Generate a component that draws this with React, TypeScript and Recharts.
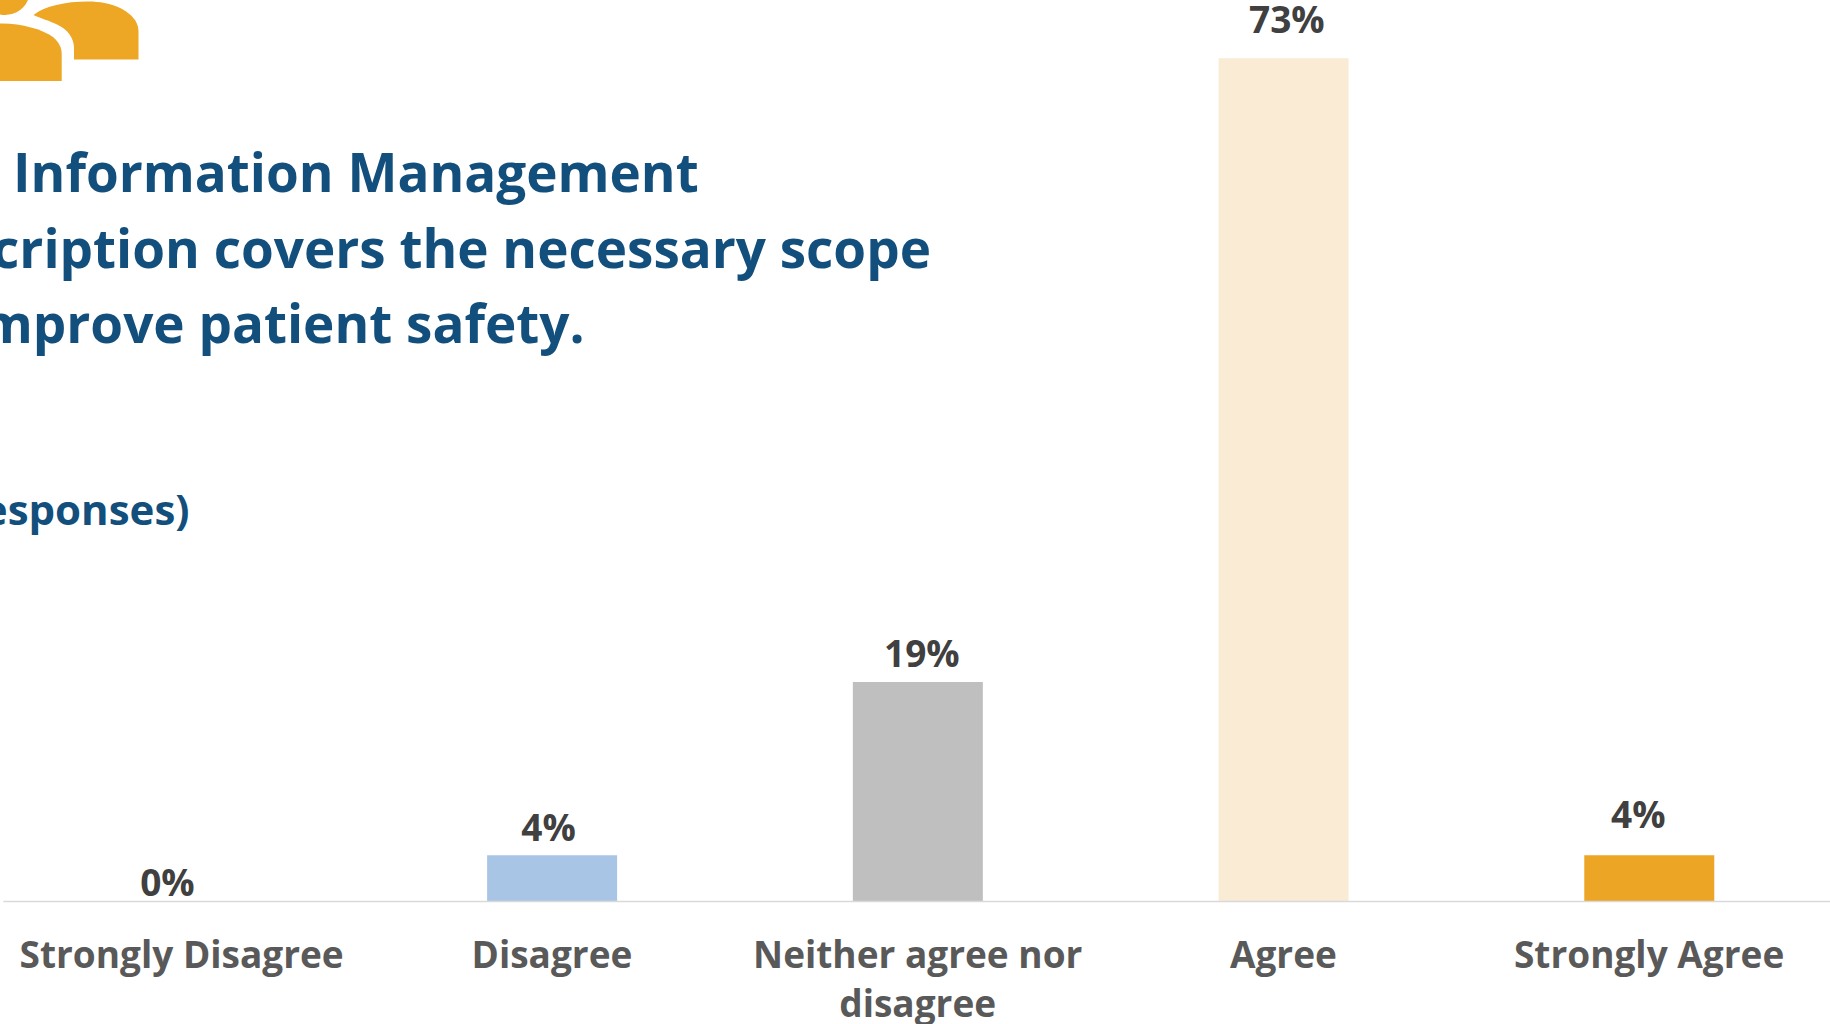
import React from 'react';
import { BarChart, Bar, XAxis, YAxis, LabelList, Cell } from 'recharts';

// ---- data ----
const categories = ['Strongly Disagree', 'Disagree', 'Neither agree nor disagree', 'Agree', 'Strongly Agree'];
const values = [0, 4, 19, 73, 4];
const valueLabels = ['0%', '4%', '19%', '73%', '4%'];
const barColors = ['#2E75B6', '#A9C5E6', '#BFBFBF', '#FAEBD4', '#EDA526'];
const titleLines = ['Information Management', 'cription covers the necessary scope', 'mprove patient safety.'];
const subtitleText = 'esponses)';

const data = categories.map((c, i) => ({ category: c, value: values[i] }));

// ---- styling constants ----
const FONT = '"Open Sans", "DejaVu Sans", sans-serif';
const LABEL_DX = [-19, -3.5, 4, 3.3, -11];
const LABEL_GAP = [5.5, 14.5, 15.3, 25.5, 27];
const TICK_DX = [-4.6, 0, 0, 0, 0];
const TICK_FONT_SIZE = 37;
const TICK_LINE_HEIGHT = 48.4;
const TICK_MAX_WIDTH = 360;

let measureCtx: CanvasRenderingContext2D | null = null;
const measure = (s: string): number => {
  if (!measureCtx) {
    const c = document.createElement('canvas');
    measureCtx = c.getContext('2d');
  }
  if (!measureCtx) return s.length * TICK_FONT_SIZE * 0.55;
  measureCtx.font = `700 ${TICK_FONT_SIZE}px "Open Sans"`;
  return measureCtx.measureText(s).width;
};

const wrapWords = (s: string, maxW: number): string[] => {
  const words = s.split(' ');
  const lines: string[] = [];
  let cur = '';
  words.forEach((w) => {
    const test = cur ? `${cur} ${w}` : w;
    if (cur && measure(test) > maxW) {
      lines.push(cur);
      cur = w;
    } else {
      cur = test;
    }
  });
  if (cur) lines.push(cur);
  return lines;
};

const renderValueLabel = (props: any) => {
  const { x, y, width, value } = props;
  const i = categories.indexOf(String(value));
  if (i < 0) return null;
  const cx = Number(x) + Number(width) / 2 + LABEL_DX[i];
  const by = Number(y) - LABEL_GAP[i];
  return (
    <text
      key={`lbl-${i}`}
      x={cx}
      y={by}
      textAnchor="middle"
      fill="#404040"
      fontFamily={FONT}
      fontWeight={700}
      fontSize={37}
    >
      {valueLabels[i]}
    </text>
  );
};

const CategoryTick = (props: any) => {
  const { x, y, payload } = props;
  const idx = categories.indexOf(String(payload.value));
  const tx = Number(x) + (idx >= 0 ? TICK_DX[idx] : 0);
  const lines = wrapWords(String(payload.value), TICK_MAX_WIDTH);
  const baseY = Number(y) + 66.8;
  return (
    <text
      x={tx}
      y={baseY}
      textAnchor="middle"
      fill="#595959"
      fontFamily={FONT}
      fontWeight={700}
      fontSize={TICK_FONT_SIZE}
    >
      {lines.map((ln, k) => (
        <tspan key={k} x={tx} y={baseY + k * TICK_LINE_HEIGHT}>
          {ln}
        </tspan>
      ))}
    </text>
  );
};

export default function App() {
  return (
    <div style={{ position: 'absolute', left: 0, top: 0, width: 1830, height: 1024, overflow: 'hidden', background: '#ffffff' }}>
      <div style={{ position: 'absolute', left: 0, top: 0 }}>
        <BarChart
          width={1832}
          height={1024}
          data={data}
          margin={{ top: 0.6, right: 0, bottom: 0, left: 3.4 }}
        >
          <YAxis hide domain={[0, 78]} />
          <XAxis
            dataKey="category"
            interval={0}
            tickLine={false}
            tickSize={0}
            tickMargin={0}
            height={122.5}
            axisLine={{ stroke: '#D9D9D9', strokeWidth: 1.5 }}
            tick={<CategoryTick />}
          />
          <Bar dataKey="value" barSize={130} minPointSize={0.01} isAnimationActive={false}>
            {data.map((d, i) => (
              <Cell key={d.category} fill={barColors[i]} />
            ))}
            <LabelList dataKey="category" content={renderValueLabel} />
          </Bar>
        </BarChart>
      </div>
      <svg
        width={1830}
        height={1024}
        style={{ position: 'absolute', left: 0, top: 0, pointerEvents: 'none' }}
      >
        {/* logo fragment */}
        <g fill="#EDA725">
          <path d="M0,0 L28,0 A25,25 0 0 1 0,14.5 Z" />
          <path d="M0,23.5 C20,23 42,29 53,37 C59,42 61.7,48 61.7,54 L61.7,81 L0,81 Z" />
          <path d="M33.5,15 C45,6 65,1.5 88,1.5 C112,1.5 128,10 135,20 C138,25 138.5,28 138.5,32 L138.5,59.5 L74,59.5 L74,48 C74,38 68,30 58,25 C50,21 40,18 33.5,15 Z" />
        </g>
        <g fill="#134F7C" fontFamily={FONT} fontWeight={700}>
          <text x={13} y={191.7} fontSize={53}>{titleLines[0]}</text>
          <text x={931} y={268.3} fontSize={53} textAnchor="end">{titleLines[1]}</text>
          <text x={584.5} y={343.3} fontSize={53} textAnchor="end">{titleLines[2]}</text>
          <text x={189.5} y={525} fontSize={42} textAnchor="end">{subtitleText}</text>
        </g>
      </svg>
    </div>
  );
}
